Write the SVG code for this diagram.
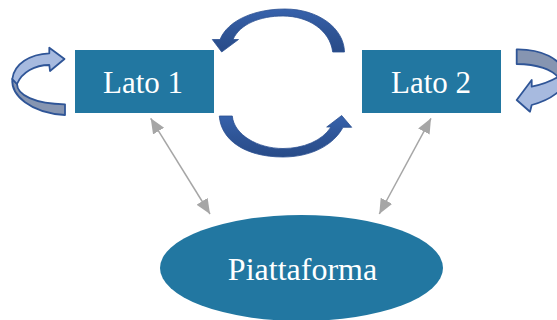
<svg xmlns="http://www.w3.org/2000/svg" width="557" height="320" viewBox="0 0 557 320">
  <style>
    .node { fill: #2277a1; }
    .label { font-family: "Liberation Serif", "Times New Roman", serif; font-size: 31px; fill: #ffffff; text-anchor: middle; }
    .big { font-size: 32px; }
    .link { stroke: #a6a6a6; stroke-width: 1.5; fill: none; marker-start: url(#grayHead); marker-end: url(#grayHead); }
    .swap { fill: url(#swapFill); stroke: #2c5192; stroke-width: 0.8; }
    .loopTop { fill: #a7badf; stroke: #2f5597; stroke-width: 1.8; stroke-linejoin: round; }
    .loopBack { fill: #8695b1; stroke: #2f5597; stroke-width: 1.8; stroke-linejoin: round; }
  </style>
  <defs>
    <marker id="grayHead" markerUnits="userSpaceOnUse" markerWidth="16" markerHeight="14" refX="15" refY="6.5" orient="auto-start-reverse">
      <path d="M0,0 L15,6.5 L0,13 Z" fill="#a6a6a6"/>
    </marker>
    <linearGradient id="swapFill" x1="0" y1="0" x2="0" y2="1">
      <stop offset="0" stop-color="#3762ac"/>
      <stop offset="0.5" stop-color="#2f5597"/>
      <stop offset="1" stop-color="#284b88"/>
    </linearGradient>
  </defs>

  <!-- exchange arrows between the two sides -->
  <g id="connectors">
    <path class="link" d="M150.7,118.3 L210,214"/>
    <path class="link" d="M431,118.3 L379.3,214"/>
    <path class="swap" d="M332.7,52 L344.5,52 C344,28 318,9 285,9 C255,9 228,20 220,39.5 L212.3,39.5 L221.7,52 L238.5,39.5 L233,39.5 C240,24 260,16 283,16 C308,16 330,30 332.7,52 Z"/>
    <path class="swap" d="M219.3,116 C221,140 245,157 283,157 C310,157 333,146 343,127.3 L351.7,127.3 L341.7,115.5 L326.7,127 L331,127 C322,141 303,148.5 283,148.5 C258,148.5 234,135 232.3,116 Z"/>
  </g>

  <!-- self loop on the left side -->
  <g id="loop1">
    <path class="loopBack" d="M12.3,79 C11,95 30,113 65,115 L65,104.3 C35,104 17,95 17,84 Z"/>
    <path class="loopTop" d="M49.3,53.3 L49.3,47.7 L64.5,59 L50,71 L49.3,65 C35,65 22,72 17,84 L12.3,79 C14,64 30,54 49.3,53.3 Z"/>
  </g>

  <!-- self loop on the right side -->
  <g id="loop2">
    <path class="loopBack" d="M516.7,49.3 C540,49 562,58 566,76 L558,77 C552,70 538,64 516.7,64 Z"/>
    <path class="loopTop" d="M566,76 C566,90 550,100 531.7,105 L530,111.7 L516.7,100 L531.7,80 L531.7,86.7 C545,84 553,80 558,77 Z"/>
  </g>

  <g id="lato1">
    <rect class="node" x="75" y="50" width="139" height="63"/>
    <text class="label" x="143" y="93">Lato 1</text>
  </g>

  <g id="lato2">
    <rect class="node" x="362" y="50" width="139" height="63"/>
    <text class="label" x="431" y="93">Lato 2</text>
  </g>

  <g id="piattaforma">
    <ellipse class="node" cx="301.5" cy="268" rx="141.5" ry="53"/>
    <text class="label big" x="302.5" y="280">Piattaforma</text>
  </g>
</svg>
